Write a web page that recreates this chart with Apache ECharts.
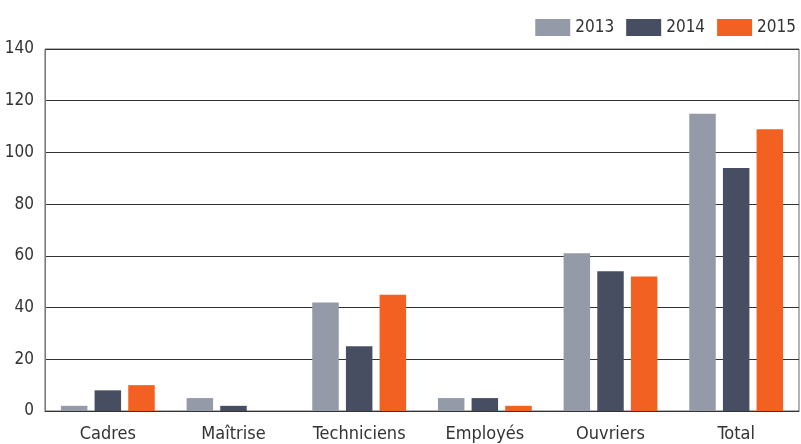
<!DOCTYPE html>
<html><head><meta charset="utf-8">
<script src="https://cdn.jsdelivr.net/npm/echarts@6/dist/echarts.min.js"></script>
<style>html,body{margin:0;padding:0;background:#fff}#c{width:801px;height:444px}</style>
</head><body><div id="c"></div>
<script>
const categories = ['Cadres', 'Maîtrise', 'Techniciens', 'Employés', 'Ouvriers', 'Total'];
const seriesNames = ['2013', '2014', '2015'];
const v2013 = [2, 5, 42, 5, 61, 115];
const v2014 = [8, 2, 25, 5, 54, 94];
const v2015 = [10, 0, 45, 2, 52, 109];
const yTicks = [0, 20, 40, 60, 80, 100, 120, 140];

const FONT = '"DejaVu Sans Condensed", "Liberation Sans Narrow", sans-serif';
const colors = ['#959aa8', '#484e62', '#f26122'];
const chart = echarts.init(document.getElementById('c'), null, {renderer: 'canvas'});
const data = [v2013, v2014, v2015];
chart.setOption({
  animation: false,
  color: colors,
  textStyle: {fontFamily: FONT},
  legend: {
    right: 0, top: 14,
    itemWidth: 35, itemHeight: 17, itemGap: 12,
    itemStyle: {borderWidth: 0},
    icon: 'rect',
    textStyle: {fontFamily: FONT, fontSize: 17, color: '#333', padding: [2, 0, 0, 0]},
    data: seriesNames
  },
  grid: {left: 45, right: 2, top: 49, bottom: 33, outerBoundsMode: 'none', show: true, borderColor: '#666', borderWidth: 1},
  xAxis: {
    type: 'category', data: categories,
    axisLine: {lineStyle: {color: '#333', width: 1}},
    axisTick: {show: false},
    axisLabel: {interval: 0, fontFamily: FONT, fontSize: 18, color: '#333', margin: 14}
  },
  yAxis: {
    type: 'value', min: yTicks[0], max: yTicks[yTicks.length - 1], interval: 20,
    axisLine: {show: true, lineStyle: {color: '#777'}},
    axisTick: {show: false},
    splitLine: {lineStyle: {color: '#333', width: 1}},
    axisLabel: {fontFamily: FONT, fontSize: 17, color: '#333', margin: 11}
  },
  series: seriesNames.map((n, i) => ({
    name: n, type: 'bar', data: data[i],
    barWidth: 26.5, barGap: '27%',
    itemStyle: {color: colors[i]}
  }))
});
</script></body></html>
